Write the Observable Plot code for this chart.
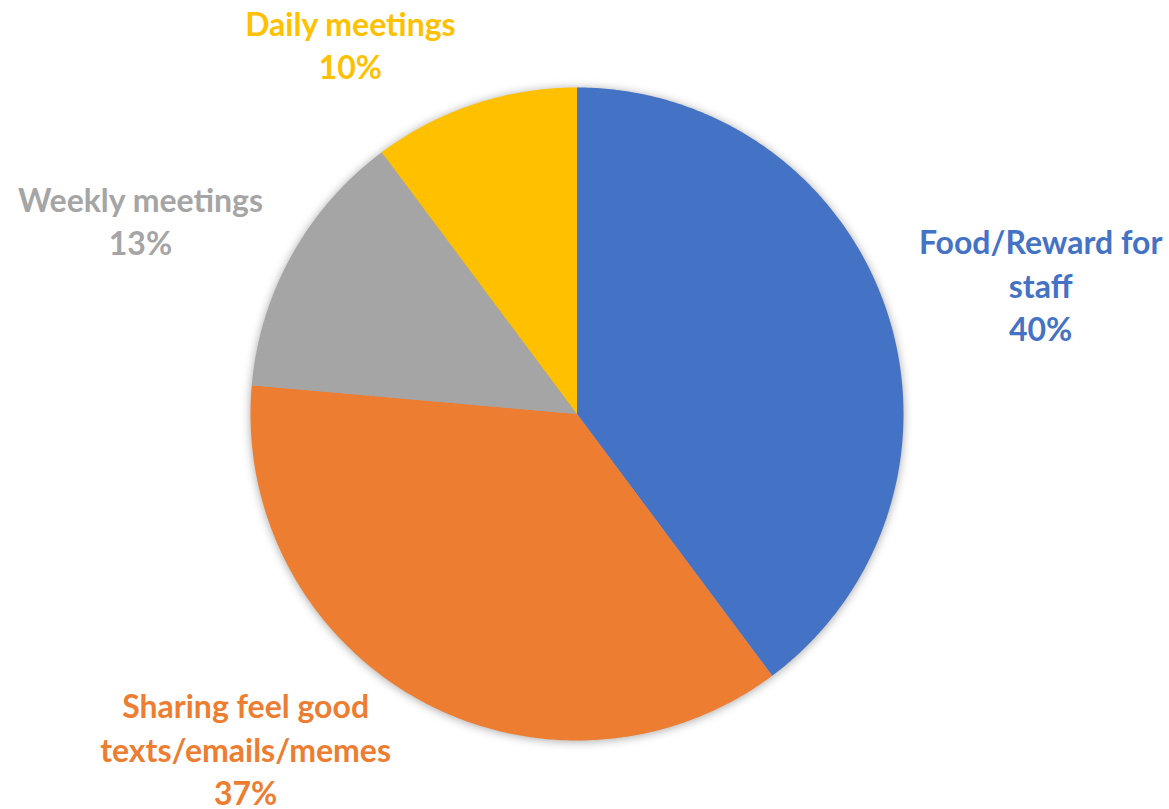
<!DOCTYPE html>
<html>
<head>
<meta charset="utf-8">
<script src="https://cdn.jsdelivr.net/npm/d3@7"></script>
<script src="https://cdn.jsdelivr.net/npm/@observablehq/plot@0.6"></script>
<style>
  html, body { margin: 0; padding: 0; background: #fff; }
  #chart svg g[aria-label="line"] { filter: drop-shadow(0px 1px 5px rgba(0,0,0,0.35)); }
</style>
</head>
<body>
<div id="chart"></div>
<script>
// ---- data ----
const categories = ["Food/Reward for staff", "Sharing feel good texts/emails/memes", "Weekly meetings", "Daily meetings"];
const labelText = ["Food/Reward for\nstaff", "Sharing feel good\ntexts/emails/memes", "Weekly meetings", "Daily meetings"];
const values = [39.8, 36.6, 13.4, 10.2];
const colors = ["#4472C4", "#ED7D31", "#A5A5A5", "#FFC000"];

// ---- layout (label anchors in pie-radius units, outside the data arrays) ----
const labelAnchor = [[1.42, 0.399], [-1.015, -1.022], [-1.337, 0.595], [-0.694, 1.134]];

// build slice outlines from the values (clockwise from 12 o'clock)
const total = d3.sum(values);
const slicePts = [];
let acc = 0;
values.forEach((v, i) => {
  const a0 = acc / total * 2 * Math.PI;
  const a1 = (acc + v) / total * 2 * Math.PI;
  acc += v;
  slicePts.push({cat: categories[i], x: 0, y: 0});
  const n = Math.max(8, Math.ceil((a1 - a0) / (Math.PI / 360)));
  for (let k = 0; k <= n; k++) {
    const a = a0 + (a1 - a0) * k / n;
    slicePts.push({cat: categories[i], x: Math.sin(a), y: Math.cos(a)});
  }
  slicePts.push({cat: categories[i], x: 0, y: 0});
});

const labels = categories.map((c, i) => ({
  cat: c,
  text: labelText[i] + "\n" + Math.round(values[i] / total * 100) + "%",
  x: labelAnchor[i][0],
  y: labelAnchor[i][1]
}));

const chart = Plot.plot({
  width: 1169,
  height: 809,
  margin: 0,
  x: {domain: [-1, 1], range: [250, 903], axis: null},
  y: {domain: [-1, 1], range: [740, 87], axis: null},
  color: {domain: categories, range: colors},
  style: {fontFamily: "Lato, sans-serif", background: "#fff"},
  marks: [
    Plot.line(slicePts, {x: "x", y: "y", z: "cat", fill: "cat", stroke: "none", curve: "linear"}),
    Plot.text(labels, {
      x: "x", y: "y", text: "text", fill: (d) => d.cat,
      fontSize: 32, fontWeight: "bold", lineHeight: 1.36,
      textAnchor: "middle", lineAnchor: "middle"
    })
  ]
});
document.getElementById("chart").appendChild(chart);
</script>
</body>
</html>
